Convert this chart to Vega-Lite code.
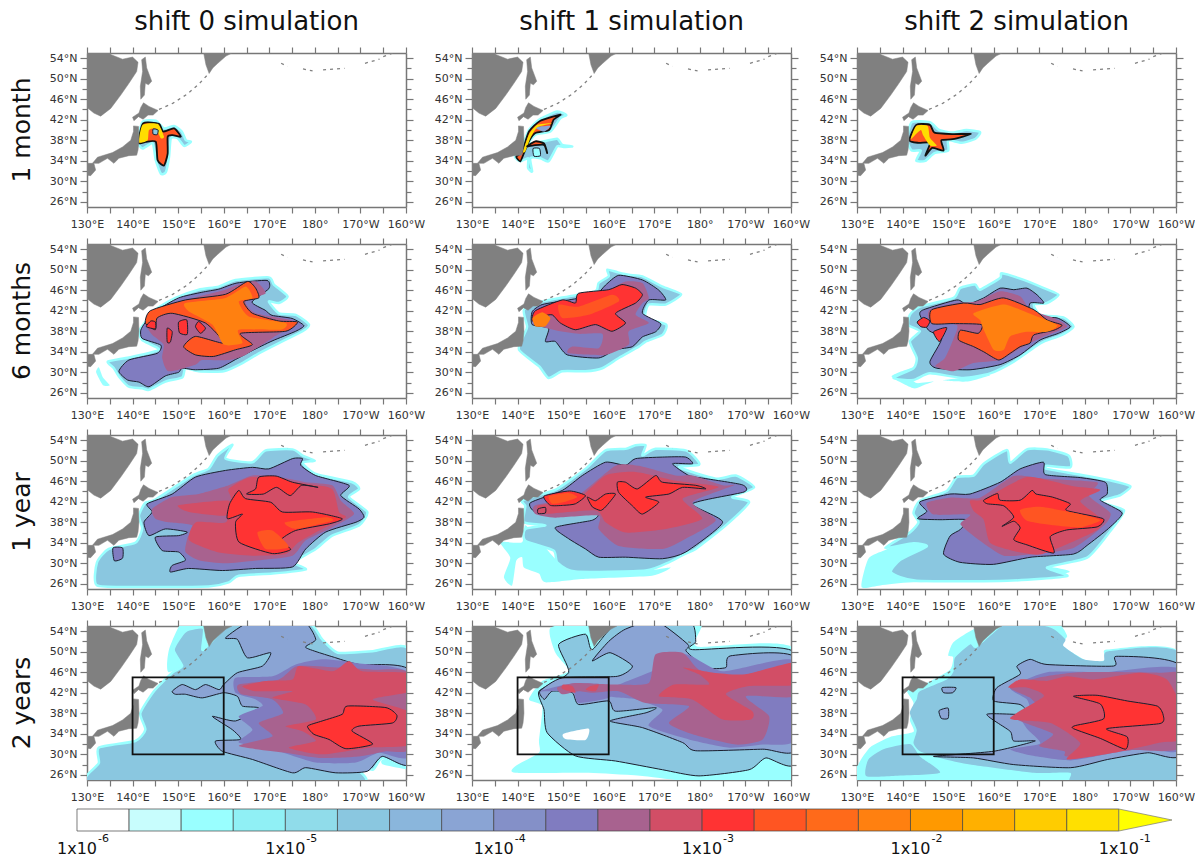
{"$schema":"https://vega.github.io/schema/vega-lite/v6.json","padding":{"left":10,"top":9,"right":0,"bottom":0},"background":"white","config":{"view":{"stroke":null},"axis":{"grid":false,"title":null,"domainColor":"#777","domainWidth":1.5,"tickColor":"#777","tickWidth":1.2,"labelFontSize":11,"labelColor":"#333","labelFont":"DejaVu Sans","labelOverlap":false,"labelFlush":false}},"datasets":{"panels":[{"p":"a","r":"1 month","s":"shift 0 simulation"},{"p":"b","r":"1 month","s":"shift 1 simulation"},{"p":"c","r":"1 month","s":"shift 2 simulation"},{"p":"d","r":"6 months","s":"shift 0 simulation"},{"p":"e","r":"6 months","s":"shift 1 simulation"},{"p":"f","r":"6 months","s":"shift 2 simulation"},{"p":"g","r":"1 year","s":"shift 0 simulation"},{"p":"h","r":"1 year","s":"shift 1 simulation"},{"p":"i","r":"1 year","s":"shift 2 simulation"},{"p":"j","r":"2 years","s":"shift 0 simulation"},{"p":"k","r":"2 years","s":"shift 1 simulation"},{"p":"l","r":"2 years","s":"shift 2 simulation"}],
"groups":[{"g":"a1","p":"a","l":2,"e":"c"},{"g":"a2","p":"a","l":8,"e":"K"},{"g":"a3","p":"a","l":10,"e":"n"},{"g":"a4","p":"a","l":2,"e":"k"},
{"g":"b1","p":"b","l":2,"e":"c"},{"g":"b6","p":"b","l":1,"e":"k"},{"g":"b2","p":"b","l":8,"e":"K"},{"g":"b5","p":"b","l":3,"e":"n"},{"g":"b3","p":"b","l":10,"e":"n"},{"g":"b4","p":"b","l":8,"e":"K"},
{"g":"c1","p":"c","l":2,"e":"c"},{"g":"c2","p":"c","l":8,"e":"K"},{"g":"c3","p":"c","l":10,"e":"n"},
{"g":"d0","p":"d","l":1,"e":"n"},{"g":"d1","p":"d","l":2,"e":"c"},{"g":"d2","p":"d","l":4,"e":"k"},{"g":"d3","p":"d","l":5,"e":"n"},{"g":"d4","p":"d","l":8,"e":"k"},{"g":"d5","p":"d","l":9,"e":"n"},{"g":"d6","p":"d","l":7,"e":"k"},{"g":"d7","p":"d","l":7,"e":"k"},{"g":"d8","p":"d","l":7,"e":"k"},{"g":"d9","p":"d","l":7,"e":"k"},
{"g":"e1","p":"e","l":2,"e":"c"},{"g":"e2","p":"e","l":4,"e":"k"},{"g":"e3","p":"e","l":5,"e":"n"},{"g":"e4","p":"e","l":7,"e":"k"},{"g":"e5","p":"e","l":8,"e":"n"},{"g":"e6","p":"e","l":9,"e":"n"},
{"g":"f0","p":"f","l":1,"e":"n"},{"g":"f9","p":"f","l":1,"e":"n"},{"g":"f1","p":"f","l":2,"e":"c"},{"g":"f2","p":"f","l":4,"e":"k"},{"g":"f3","p":"f","l":5,"e":"n"},{"g":"f4","p":"f","l":8,"e":"k"},{"g":"f5","p":"f","l":9,"e":"n"},{"g":"f6","p":"f","l":7,"e":"k"},{"g":"f7","p":"f","l":7,"e":"k"},
{"g":"g1","p":"g","l":2,"e":"c"},{"g":"g2","p":"g","l":4,"e":"k"},{"g":"g8","p":"g","l":4,"e":"k"},{"g":"g3","p":"g","l":5,"e":"n"},{"g":"g4","p":"g","l":6,"e":"n"},{"g":"g5","p":"g","l":6,"e":"n"},{"g":"g6","p":"g","l":7,"e":"k"},{"g":"g7","p":"g","l":7,"e":"k"},{"g":"g9","p":"g","l":8,"e":"n"},{"g":"g0","p":"g","l":8,"e":"n"},
{"g":"h0","p":"h","l":1,"e":"n"},{"g":"h1","p":"h","l":2,"e":"c"},{"g":"h2","p":"h","l":4,"e":"k"},{"g":"h3","p":"h","l":5,"e":"n"},{"g":"h4","p":"h","l":6,"e":"n"},{"g":"h5","p":"h","l":7,"e":"k"},{"g":"h6","p":"h","l":8,"e":"n"},{"g":"h7","p":"h","l":7,"e":"k"},{"g":"h8","p":"h","l":7,"e":"k"},{"g":"h9","p":"h","l":6,"e":"k"},
{"g":"i0","p":"i","l":1,"e":"n"},{"g":"i1","p":"i","l":2,"e":"c"},{"g":"i2","p":"i","l":4,"e":"k"},{"g":"i3","p":"i","l":5,"e":"n"},{"g":"i4","p":"i","l":6,"e":"n"},{"g":"i5","p":"i","l":7,"e":"k"},{"g":"i6","p":"i","l":8,"e":"n"},
{"g":"j0","p":"j","l":1,"e":"n"},{"g":"j8","p":"j","l":1,"e":"n"},{"g":"j9","p":"j","l":1,"e":"n"},{"g":"j1","p":"j","l":2,"e":"c"},{"g":"j2","p":"j","l":3,"e":"k"},{"g":"j3","p":"j","l":4,"e":"n"},{"g":"j4","p":"j","l":5,"e":"n"},{"g":"j5","p":"j","l":6,"e":"n"},{"g":"j6","p":"j","l":7,"e":"k"},{"g":"jb","p":"j","l":0,"e":"n"},
{"g":"k0","p":"k","l":1,"e":"n"},{"g":"k1","p":"k","l":2,"e":"k"},{"g":"k9","p":"k","l":0,"e":"n"},{"g":"k2","p":"k","l":3,"e":"k"},{"g":"k3","p":"k","l":4,"e":"n"},{"g":"k8","p":"k","l":4,"e":"n"},{"g":"k4","p":"k","l":5,"e":"n"},{"g":"k5","p":"k","l":6,"e":"n"},{"g":"k6","p":"k","l":6,"e":"n"},{"g":"k7","p":"k","l":6,"e":"n"},{"g":"kb","p":"k","l":0,"e":"n"},
{"g":"l0","p":"l","l":1,"e":"n"},{"g":"l1","p":"l","l":2,"e":"n"},{"g":"l8","p":"l","l":2,"e":"n"},{"g":"l2","p":"l","l":3,"e":"k"},{"g":"l3","p":"l","l":4,"e":"n"},{"g":"l4","p":"l","l":5,"e":"n"},{"g":"l5","p":"l","l":6,"e":"n"},{"g":"l6","p":"l","l":7,"e":"k"},{"g":"l7","p":"l","l":3,"e":"k"},{"g":"l9","p":"l","l":3,"e":"k"},{"g":"lb","p":"l","l":0,"e":"n"}],
"land":[{"n":"asia","x":130,"y":55},{"n":"asia","x":135.2,"y":55},{"n":"asia","x":135.2,"y":54.7},{"n":"asia","x":137.8,"y":53.8},{"n":"asia","x":140,"y":54.2},{"n":"asia","x":141.2,"y":53.2},{"n":"asia","x":140.9,"y":51.4},{"n":"asia","x":139.2,"y":49.1},{"n":"asia","x":137.4,"y":46.8},{"n":"asia","x":135.2,"y":44.2},{"n":"asia","x":133,"y":42.7},{"n":"asia","x":131.5,"y":43.3},{"n":"asia","x":130,"y":44.4},
{"n":"sakh","x":142,"y":53.7},{"n":"sakh","x":142.8,"y":54.2},{"n":"sakh","x":143.1,"y":52.1},{"n":"sakh","x":144.2,"y":49.5},{"n":"sakh","x":143.5,"y":48.8},{"n":"sakh","x":142.8,"y":49.1},{"n":"sakh","x":142.6,"y":46.8},{"n":"sakh","x":141.8,"y":46},{"n":"sakh","x":141.7,"y":48.5},{"n":"sakh","x":142.2,"y":51.4},
{"n":"hok","x":140,"y":42.5},{"n":"hok","x":141.4,"y":43.3},{"n":"hok","x":141.8,"y":44.4},{"n":"hok","x":142.4,"y":45.3},{"n":"hok","x":143.6,"y":44.6},{"n":"hok","x":145.6,"y":43.8},{"n":"hok","x":144.5,"y":42.9},{"n":"hok","x":143.4,"y":42.9},{"n":"hok","x":142.3,"y":42.1},{"n":"hok","x":141.3,"y":42.6},{"n":"hok","x":140.3,"y":41.8},
{"n":"hon","x":140.2,"y":40.8},{"n":"hon","x":141.3,"y":40.7},{"n":"hon","x":141.4,"y":38},{"n":"hon","x":141.2,"y":36.1},{"n":"hon","x":140.9,"y":35.1},{"n":"hon","x":139.2,"y":35},{"n":"hon","x":137,"y":34.5},{"n":"hon","x":135.9,"y":33.5},{"n":"hon","x":134.5,"y":34.5},{"n":"hon","x":132.6,"y":33.5},{"n":"hon","x":131.2,"y":33.5},{"n":"hon","x":132.3,"y":34.7},{"n":"hon","x":135.6,"y":35.6},{"n":"hon","x":137.8,"y":36.7},{"n":"hon","x":139.6,"y":38},{"n":"hon","x":140.2,"y":39.7},
{"n":"kyu","x":130,"y":33.5},{"n":"kyu","x":131.5,"y":33.5},{"n":"kyu","x":131.9,"y":32.2},{"n":"kyu","x":130.8,"y":31.1},{"n":"kyu","x":130,"y":31.2},
{"n":"kam","x":155.6,"y":55},{"n":"kam","x":161.8,"y":55},{"n":"kam","x":160.5,"y":54.4},{"n":"kam","x":158.7,"y":53},{"n":"kam","x":157.6,"y":52.1},{"n":"kam","x":156.8,"y":51},{"n":"kam","x":156.1,"y":52.7}],
"isl":[{"n":"k1","x":145.8,"y":44},{"n":"k1","x":148.8,"y":45.2},{"n":"k1","x":152,"y":47},{"n":"k1","x":154.6,"y":49},{"n":"k1","x":156.4,"y":50.7},{"n":"a1","x":172.6,"y":53},{"n":"a1","x":174,"y":52.4},{"n":"a2","x":177.4,"y":51.9},{"n":"a2","x":179.5,"y":51.5},{"n":"a3","x":181.8,"y":51.7},{"n":"a3","x":186.5,"y":52},{"n":"a4","x":191,"y":53},{"n":"a4","x":194.2,"y":53.8},{"n":"a5","x":195,"y":54.3},{"n":"a5","x":197.2,"y":55}],
"f":[
{"g":"a1","x":142.2,"y":41.6},{"g":"a1","x":145.1,"y":41.8},{"g":"a1","x":146.9,"y":40.3},{"g":"a1","x":149.1,"y":40.8},{"g":"a1","x":150.8,"y":39.7},{"g":"a1","x":151.7,"y":38},{"g":"a1","x":152.8,"y":37.7},{"g":"a1","x":151.3,"y":36.9},{"g":"a1","x":149.9,"y":38.4},{"g":"a1","x":148.4,"y":38.4},{"g":"a1","x":148,"y":34.8},{"g":"a1","x":147.3,"y":31.8},{"g":"a1","x":146.2,"y":31.5},{"g":"a1","x":145.1,"y":34.1},{"g":"a1","x":144.4,"y":37.4},{"g":"a1","x":142.2,"y":36.4},{"g":"a1","x":141.1,"y":37.7},
{"g":"a2","x":142.3,"y":41.3},{"g":"a2","x":145.8,"y":41.2},{"g":"a2","x":146.7,"y":39.7},{"g":"a2","x":149.1,"y":40.3},{"g":"a2","x":150.6,"y":38.7},{"g":"a2","x":148.8,"y":39},{"g":"a2","x":147.7,"y":38.7},{"g":"a2","x":147.7,"y":35.4},{"g":"a2","x":146.9,"y":33.1},{"g":"a2","x":145.5,"y":34.1},{"g":"a2","x":145.1,"y":37.7},{"g":"a2","x":142.9,"y":37.7},{"g":"a2","x":141.3,"y":37.5},
{"g":"a3","x":142.2,"y":41},{"g":"a3","x":145.5,"y":41.2},{"g":"a3","x":146.9,"y":38.7},{"g":"a3","x":146.2,"y":38.4},{"g":"a3","x":145.1,"y":40.3},{"g":"a3","x":143.6,"y":40},{"g":"a3","x":143.3,"y":38},{"g":"a3","x":141.4,"y":37.6},
{"g":"a4","x":144.5,"y":40.2},{"g":"a4","x":145.6,"y":40},{"g":"a4","x":145.4,"y":39.1},{"g":"a4","x":144.5,"y":39.2},
{"g":"b1","x":139.4,"y":34.8},{"g":"b1","x":141,"y":36.8},{"g":"b1","x":142.5,"y":40},{"g":"b1","x":144.7,"y":42},{"g":"b1","x":148.7,"y":43.6},{"g":"b1","x":150.7,"y":42.9},{"g":"b1","x":149.4,"y":42.3},{"g":"b1","x":147.2,"y":39.7},{"g":"b1","x":143.9,"y":39.1},{"g":"b1","x":142.5,"y":37.4},{"g":"b1","x":145.8,"y":37.8},{"g":"b1","x":148.7,"y":38.3},{"g":"b1","x":149.8,"y":37.1},{"g":"b1","x":152,"y":36.8},{"g":"b1","x":150.1,"y":36.7},{"g":"b1","x":148.7,"y":36.8},{"g":"b1","x":146.8,"y":33.9},{"g":"b1","x":145,"y":34.5},{"g":"b1","x":142.8,"y":34.5},{"g":"b1","x":143.2,"y":31.9},{"g":"b1","x":142.3,"y":32.6},{"g":"b1","x":142.3,"y":34.5},{"g":"b1","x":140.6,"y":33.9},
{"g":"b6","x":143.4,"y":36.4},{"g":"b6","x":144.8,"y":36.4},{"g":"b6","x":145,"y":35},{"g":"b6","x":143.6,"y":34.9},
{"g":"b2","x":139.7,"y":34.8},{"g":"b2","x":141,"y":35.8},{"g":"b2","x":142.5,"y":39.7},{"g":"b2","x":145,"y":41.8},{"g":"b2","x":149.4,"y":43},{"g":"b2","x":147.9,"y":42},{"g":"b2","x":146.9,"y":40},{"g":"b2","x":143.9,"y":39.4},{"g":"b2","x":142.5,"y":37.8},{"g":"b2","x":141.4,"y":35.5},{"g":"b2","x":140.6,"y":33.9},
{"g":"b5","x":143.9,"y":40.5},{"g":"b5","x":147.2,"y":40.8},{"g":"b5","x":145.8,"y":39.7},
{"g":"b3","x":141.2,"y":35.8},{"g":"b3","x":142.5,"y":39.1},{"g":"b3","x":144.3,"y":41},{"g":"b3","x":147.6,"y":41.3},{"g":"b3","x":144.3,"y":40.5},{"g":"b3","x":142.8,"y":38.4},{"g":"b3","x":141.7,"y":35.8},
{"g":"b4","x":142.1,"y":36.8},{"g":"b4","x":143.9,"y":37.8},{"g":"b4","x":145.8,"y":37.4},{"g":"b4","x":146.5,"y":35.5},{"g":"b4","x":145.8,"y":37.1},{"g":"b4","x":143.5,"y":37},
{"g":"c1","x":142,"y":41.5},{"g":"c1","x":146,"y":41.5},{"g":"c1","x":148,"y":40},{"g":"c1","x":151,"y":39.5},{"g":"c1","x":154,"y":40},{"g":"c1","x":157,"y":39.6},{"g":"c1","x":156,"y":38.3},{"g":"c1","x":153,"y":37.5},{"g":"c1","x":150,"y":38},{"g":"c1","x":150,"y":36},{"g":"c1","x":147,"y":35.5},{"g":"c1","x":145,"y":34},{"g":"c1","x":143,"y":34},{"g":"c1","x":144,"y":36},{"g":"c1","x":142,"y":36},{"g":"c1","x":141,"y":38},
{"g":"c2","x":143,"y":41},{"g":"c2","x":146,"y":41},{"g":"c2","x":147,"y":39.5},{"g":"c2","x":151,"y":39.2},{"g":"c2","x":155,"y":39.2},{"g":"c2","x":151,"y":38.2},{"g":"c2","x":148.5,"y":38},{"g":"c2","x":149,"y":36},{"g":"c2","x":146.5,"y":36.5},{"g":"c2","x":145,"y":35},{"g":"c2","x":146,"y":37.5},{"g":"c2","x":143.5,"y":37.5},{"g":"c2","x":141.5,"y":38},
{"g":"c3","x":143,"y":40.8},{"g":"c3","x":145.5,"y":40.8},{"g":"c3","x":146,"y":38.5},{"g":"c3","x":147.5,"y":37},{"g":"c3","x":146,"y":37},{"g":"c3","x":144.5,"y":39},{"g":"c3","x":144,"y":40},{"g":"c3","x":142.5,"y":38.8},{"g":"c3","x":141.8,"y":38.3},
{"g":"d0","x":132.6,"y":31},{"g":"d0","x":133.5,"y":29},{"g":"d0","x":135,"y":27.5},{"g":"d0","x":133.5,"y":27.5},{"g":"d0","x":132,"y":30},
{"g":"d1","x":142.8,"y":39.8},{"g":"d1","x":145,"y":42.2},{"g":"d1","x":149.4,"y":44.5},{"g":"d1","x":154.5,"y":46.1},{"g":"d1","x":158.9,"y":46.7},{"g":"d1","x":162.6,"y":48},{"g":"d1","x":169.9,"y":48.5},{"g":"d1","x":171,"y":47.1},{"g":"d1","x":174,"y":44.8},{"g":"d1","x":172.1,"y":43.5},{"g":"d1","x":169.9,"y":43.8},{"g":"d1","x":172.1,"y":41.5},{"g":"d1","x":175.8,"y":41.2},{"g":"d1","x":178.7,"y":39.3},{"g":"d1","x":177.3,"y":38},{"g":"d1","x":172.1,"y":35.7},{"g":"d1","x":167.7,"y":33.7},{"g":"d1","x":164.1,"y":31.8},{"g":"d1","x":160,"y":30.2},{"g":"d1","x":154.5,"y":30.2},{"g":"d1","x":151.6,"y":30.8},{"g":"d1","x":150.9,"y":29},{"g":"d1","x":147.2,"y":28.2},{"g":"d1","x":143.6,"y":26.6},{"g":"d1","x":142.1,"y":26.9},{"g":"d1","x":139.2,"y":27.2},{"g":"d1","x":137,"y":29.2},{"g":"d1","x":135.9,"y":30.8},{"g":"d1","x":134.6,"y":32.1},{"g":"d1","x":139.2,"y":32.9},{"g":"d1","x":145.8,"y":34.4},{"g":"d1","x":142.1,"y":36.3},{"g":"d1","x":141.4,"y":38},
{"g":"d2","x":142.7,"y":39.6},{"g":"d2","x":145,"y":41.9},{"g":"d2","x":150.1,"y":44.5},{"g":"d2","x":155.2,"y":45.6},{"g":"d2","x":158.9,"y":46.2},{"g":"d2","x":162.9,"y":47.4},{"g":"d2","x":169.5,"y":47.9},{"g":"d2","x":169.9,"y":46.3},{"g":"d2","x":166.2,"y":43.7},{"g":"d2","x":169.1,"y":42.1},{"g":"d2","x":170.6,"y":41.1},{"g":"d2","x":175,"y":40.5},{"g":"d2","x":177.6,"y":39.1},{"g":"d2","x":175.8,"y":38},{"g":"d2","x":170.6,"y":36.1},{"g":"d2","x":166.2,"y":34.2},{"g":"d2","x":162.6,"y":32.5},{"g":"d2","x":158.9,"y":30.8},{"g":"d2","x":153.8,"y":30.5},{"g":"d2","x":150.9,"y":30.8},{"g":"d2","x":150.1,"y":30},{"g":"d2","x":147.2,"y":29.3},{"g":"d2","x":143.6,"y":27.2},{"g":"d2","x":141.4,"y":28.1},{"g":"d2","x":138.9,"y":28.5},{"g":"d2","x":137,"y":30.2},{"g":"d2","x":139.2,"y":32.4},{"g":"d2","x":145.4,"y":33.7},{"g":"d2","x":146.2,"y":35.3},{"g":"d2","x":142.1,"y":36.6},{"g":"d2","x":141.8,"y":38.2},
{"g":"d3","x":143.6,"y":40.2},{"g":"d3","x":145.8,"y":41.2},{"g":"d3","x":150.9,"y":43.8},{"g":"d3","x":156,"y":45.1},{"g":"d3","x":160.4,"y":46.1},{"g":"d3","x":163.3,"y":47.1},{"g":"d3","x":167,"y":47.7},{"g":"d3","x":169.2,"y":45.4},{"g":"d3","x":164.8,"y":43.8},{"g":"d3","x":167,"y":41.5},{"g":"d3","x":175.8,"y":39.8},{"g":"d3","x":170.7,"y":36.7},{"g":"d3","x":164.8,"y":33.4},{"g":"d3","x":161.1,"y":32.4},{"g":"d3","x":155.3,"y":32.4},{"g":"d3","x":153.8,"y":31.5},{"g":"d3","x":147.9,"y":30.2},{"g":"d3","x":146.5,"y":32.8},{"g":"d3","x":146.8,"y":35.4},{"g":"d3","x":144.3,"y":37.3},{"g":"d3","x":142.8,"y":39.3},
{"g":"d4","x":142.8,"y":39.6},{"g":"d4","x":143.9,"y":42},{"g":"d4","x":151.6,"y":44.1},{"g":"d4","x":160.4,"y":45.2},{"g":"d4","x":165.2,"y":47.7},{"g":"d4","x":167,"y":46.4},{"g":"d4","x":167.7,"y":44.5},{"g":"d4","x":164.4,"y":43.8},{"g":"d4","x":166.3,"y":41.5},{"g":"d4","x":172.1,"y":40},{"g":"d4","x":176.2,"y":39.8},{"g":"d4","x":173.6,"y":38},{"g":"d4","x":163.7,"y":37.6},{"g":"d4","x":166.3,"y":35.4},{"g":"d4","x":162.6,"y":34.4},{"g":"d4","x":157.8,"y":33.1},{"g":"d4","x":153.8,"y":33.4},{"g":"d4","x":151.2,"y":35},{"g":"d4","x":153.8,"y":37},{"g":"d4","x":160,"y":35.7},{"g":"d4","x":156,"y":39.6},{"g":"d4","x":148.7,"y":41.5},{"g":"d4","x":145.4,"y":40.6},{"g":"d4","x":145,"y":38.3},
{"g":"d5","x":151.6,"y":43.5},{"g":"d5","x":160.4,"y":44.5},{"g":"d5","x":164.8,"y":46.7},{"g":"d5","x":166.3,"y":44.5},{"g":"d5","x":163.3,"y":43.8},{"g":"d5","x":165.5,"y":40.9},{"g":"d5","x":173.6,"y":39.6},{"g":"d5","x":172.5,"y":38.3},{"g":"d5","x":163.3,"y":38.3},{"g":"d5","x":164.1,"y":35.7},{"g":"d5","x":160,"y":35.4},{"g":"d5","x":157.5,"y":39.3},{"g":"d5","x":152.3,"y":41.9},
{"g":"d6","x":150.1,"y":39.8},{"g":"d6","x":151.9,"y":40.2},{"g":"d6","x":152,"y":37.4},{"g":"d6","x":150.3,"y":37.7},
{"g":"d7","x":154.5,"y":39.9},{"g":"d7","x":156,"y":38.6},{"g":"d7","x":154.9,"y":37.6},{"g":"d7","x":153.8,"y":38.9},
{"g":"d8","x":147.6,"y":38.6},{"g":"d8","x":148.7,"y":37.9},{"g":"d8","x":148.3,"y":35.9},{"g":"d8","x":147.6,"y":35.9},
{"g":"d9","x":144,"y":40},{"g":"d9","x":145,"y":39.8},{"g":"d9","x":145,"y":38.5},{"g":"d9","x":143,"y":38.9},
{"g":"e1","x":141.4,"y":42.2},{"g":"e1","x":145.4,"y":43.8},{"g":"e1","x":151.2,"y":44.8},{"g":"e1","x":157.1,"y":45.8},{"g":"e1","x":157.8,"y":47.4},{"g":"e1","x":160,"y":48.7},{"g":"e1","x":159.7,"y":50},{"g":"e1","x":161.9,"y":49.5},{"g":"e1","x":164.4,"y":49},{"g":"e1","x":167.4,"y":48.7},{"g":"e1","x":171.8,"y":46.7},{"g":"e1","x":175.9,"y":45.2},{"g":"e1","x":172.5,"y":43.2},{"g":"e1","x":168.8,"y":43.2},{"g":"e1","x":168.1,"y":40.6},{"g":"e1","x":172.6,"y":39.3},{"g":"e1","x":171.8,"y":37.3},{"g":"e1","x":168.1,"y":36},{"g":"e1","x":166.6,"y":35},{"g":"e1","x":162.2,"y":32.8},{"g":"e1","x":158.6,"y":30.8},{"g":"e1","x":154.9,"y":30.2},{"g":"e1","x":149.8,"y":30.2},{"g":"e1","x":146.8,"y":28.9},{"g":"e1","x":144.7,"y":31.2},{"g":"e1","x":140.3,"y":34.4},{"g":"e1","x":141.4,"y":37.3},{"g":"e1","x":142.1,"y":38.9},
{"g":"e2","x":145.4,"y":43.2},{"g":"e2","x":151.2,"y":44.1},{"g":"e2","x":157.1,"y":45.1},{"g":"e2","x":159.3,"y":47},{"g":"e2","x":162.2,"y":48.9},{"g":"e2","x":167.4,"y":48},{"g":"e2","x":171,"y":46},{"g":"e2","x":172.5,"y":44.1},{"g":"e2","x":168.8,"y":44.1},{"g":"e2","x":167.4,"y":41.5},{"g":"e2","x":171.4,"y":39.5},{"g":"e2","x":170.3,"y":37.9},{"g":"e2","x":167.4,"y":36.9},{"g":"e2","x":165.2,"y":35},{"g":"e2","x":161.5,"y":34.4},{"g":"e2","x":157.8,"y":32.8},{"g":"e2","x":150.9,"y":33.4},{"g":"e2","x":148.3,"y":36},{"g":"e2","x":146.1,"y":36},{"g":"e2","x":146.8,"y":38.6},{"g":"e2","x":143.2,"y":39.3},{"g":"e2","x":143.2,"y":41.8},
{"g":"e3","x":146.1,"y":42.5},{"g":"e3","x":151.2,"y":43.5},{"g":"e3","x":160,"y":46.1},{"g":"e3","x":163.7,"y":47.7},{"g":"e3","x":167.4,"y":47.4},{"g":"e3","x":168.8,"y":44.5},{"g":"e3","x":167.4,"y":43.5},{"g":"e3","x":165.9,"y":41.2},{"g":"e3","x":168.8,"y":39.6},{"g":"e3","x":164.4,"y":38},{"g":"e3","x":164.4,"y":35.4},{"g":"e3","x":159.3,"y":33.4},{"g":"e3","x":151.2,"y":33.7},{"g":"e3","x":151.9,"y":35},{"g":"e3","x":157.8,"y":34.7},{"g":"e3","x":158.6,"y":37.5},{"g":"e3","x":153.4,"y":37.5},{"g":"e3","x":148.3,"y":38.2},{"g":"e3","x":143.9,"y":39.3},{"g":"e3","x":143.6,"y":41.5},
{"g":"e4","x":143.9,"y":42},{"g":"e4","x":149.8,"y":44.1},{"g":"e4","x":152.7,"y":43.5},{"g":"e4","x":153.4,"y":45.4},{"g":"e4","x":160,"y":46.1},{"g":"e4","x":162.9,"y":47.1},{"g":"e4","x":165.9,"y":46.4},{"g":"e4","x":167.4,"y":45.1},{"g":"e4","x":165.9,"y":43.5},{"g":"e4","x":161.5,"y":41.5},{"g":"e4","x":163.7,"y":39.6},{"g":"e4","x":160.7,"y":38},{"g":"e4","x":157.1,"y":39.3},{"g":"e4","x":152.7,"y":38.3},{"g":"e4","x":149.4,"y":39.6},{"g":"e4","x":147.6,"y":41.2},{"g":"e4","x":145.4,"y":40.9},{"g":"e4","x":143.2,"y":40},
{"g":"e5","x":149,"y":43.2},{"g":"e5","x":153.4,"y":42.8},{"g":"e5","x":160.7,"y":45.1},{"g":"e5","x":162.2,"y":43.8},{"g":"e5","x":155.6,"y":41.2},{"g":"e5","x":149.8,"y":40.6},
{"g":"e6","x":143.3,"y":40.6},{"g":"e6","x":145.4,"y":41.7},{"g":"e6","x":147.2,"y":40.6},{"g":"e6","x":146.1,"y":39},{"g":"e6","x":143.9,"y":39},
{"g":"f0","x":137.6,"y":29.2},{"g":"f0","x":142,"y":30.8},{"g":"f0","x":141.6,"y":29.2},{"g":"f0","x":143.1,"y":27.9},{"g":"f0","x":146.8,"y":28.2},{"g":"f0","x":144.6,"y":27.5},{"g":"f0","x":142.4,"y":26.9},
{"g":"f9","x":149,"y":28.5},{"g":"f9","x":159.2,"y":29.5},{"g":"f9","x":154.1,"y":28.2},
{"g":"f1","x":141.6,"y":41.2},{"g":"f1","x":143.8,"y":42.8},{"g":"f1","x":151.2,"y":44.5},{"g":"f1","x":152.6,"y":46.4},{"g":"f1","x":155.9,"y":47.1},{"g":"f1","x":157,"y":46.1},{"g":"f1","x":161.4,"y":48.4},{"g":"f1","x":161.8,"y":49.3},{"g":"f1","x":166.6,"y":48},{"g":"f1","x":171,"y":46.4},{"g":"f1","x":174.2,"y":45.1},{"g":"f1","x":171.7,"y":43.5},{"g":"f1","x":168.8,"y":43.2},{"g":"f1","x":170.2,"y":41.2},{"g":"f1","x":175.3,"y":40.7},{"g":"f1","x":177.5,"y":38.9},{"g":"f1","x":175,"y":37.3},{"g":"f1","x":171,"y":36},{"g":"f1","x":169.1,"y":35},{"g":"f1","x":164.4,"y":32.1},{"g":"f1","x":159.2,"y":29.8},{"g":"f1","x":153.4,"y":28.9},{"g":"f1","x":146,"y":29.8},{"g":"f1","x":142.4,"y":28.5},{"g":"f1","x":138,"y":28.9},{"g":"f1","x":142.4,"y":30.8},{"g":"f1","x":143.1,"y":32.8},{"g":"f1","x":141.6,"y":36},{"g":"f1","x":143.8,"y":38},{"g":"f1","x":141.3,"y":39.2},
{"g":"f2","x":144.6,"y":42.2},{"g":"f2","x":151.9,"y":44.1},{"g":"f2","x":154.1,"y":43.2},{"g":"f2","x":157.8,"y":44.5},{"g":"f2","x":161.4,"y":46.4},{"g":"f2","x":164.4,"y":46.1},{"g":"f2","x":167.3,"y":46.4},{"g":"f2","x":169.5,"y":45.1},{"g":"f2","x":171,"y":43.5},{"g":"f2","x":168,"y":43.5},{"g":"f2","x":168,"y":40.9},{"g":"f2","x":173.9,"y":40.6},{"g":"f2","x":176.8,"y":38.9},{"g":"f2","x":174.2,"y":37.6},{"g":"f2","x":170.2,"y":36.3},{"g":"f2","x":165.8,"y":33.4},{"g":"f2","x":161.4,"y":31.5},{"g":"f2","x":154.8,"y":30.5},{"g":"f2","x":147.5,"y":30.8},{"g":"f2","x":146,"y":32.1},{"g":"f2","x":148.6,"y":36.6},{"g":"f2","x":145.7,"y":38.2},{"g":"f2","x":143.8,"y":41.2},
{"g":"f3","x":146,"y":42.2},{"g":"f3","x":151.9,"y":43.5},{"g":"f3","x":156.2,"y":43.8},{"g":"f3","x":161.4,"y":45.8},{"g":"f3","x":165.8,"y":44.8},{"g":"f3","x":168,"y":42.2},{"g":"f3","x":173.2,"y":40.6},{"g":"f3","x":176.1,"y":38.9},{"g":"f3","x":171,"y":37},{"g":"f3","x":165.8,"y":34.7},{"g":"f3","x":161.4,"y":32.4},{"g":"f3","x":155.5,"y":31.8},{"g":"f3","x":151.2,"y":30.2},{"g":"f3","x":147.2,"y":31.2},{"g":"f3","x":149.3,"y":32.8},{"g":"f3","x":151.2,"y":36.6},{"g":"f3","x":151.9,"y":39.2},{"g":"f3","x":146,"y":40.2},
{"g":"f4","x":146.4,"y":42.2},{"g":"f4","x":153.4,"y":43.5},{"g":"f4","x":157,"y":43.2},{"g":"f4","x":162.2,"y":44.5},{"g":"f4","x":168.8,"y":42.2},{"g":"f4","x":171.7,"y":40.2},{"g":"f4","x":175,"y":39.2},{"g":"f4","x":173.2,"y":38.2},{"g":"f4","x":168.8,"y":37.3},{"g":"f4","x":168,"y":35.7},{"g":"f4","x":165.8,"y":35},{"g":"f4","x":163.6,"y":33.7},{"g":"f4","x":161.1,"y":32.4},{"g":"f4","x":157.8,"y":34},{"g":"f4","x":155.6,"y":35},{"g":"f4","x":152.3,"y":36.3},{"g":"f4","x":152.7,"y":38.2},{"g":"f4","x":156.6,"y":37.6},{"g":"f4","x":157.3,"y":39.3},{"g":"f4","x":151.1,"y":39.5},{"g":"f4","x":146.4,"y":39.5},
{"g":"f5","x":155.6,"y":41.5},{"g":"f5","x":162.2,"y":43.2},{"g":"f5","x":168,"y":41.4},{"g":"f5","x":173.9,"y":39.2},{"g":"f5","x":171.7,"y":37.9},{"g":"f5","x":167.3,"y":37.9},{"g":"f5","x":163.6,"y":37},{"g":"f5","x":162.2,"y":34.4},{"g":"f5","x":160,"y":34.4},{"g":"f5","x":157.8,"y":38.3},{"g":"f5","x":157,"y":40.2},
{"g":"f6","x":143.2,"y":39.8},{"g":"f6","x":144.6,"y":40.7},{"g":"f6","x":146,"y":40},{"g":"f6","x":145.3,"y":38.8},{"g":"f6","x":144,"y":38.9},
{"g":"f7","x":146.8,"y":37.9},{"g":"f7","x":149.7,"y":38.7},{"g":"f7","x":148.1,"y":36},
{"g":"g1","x":142.8,"y":41.8},{"g":"g1","x":145,"y":42.4},{"g":"g1","x":153.1,"y":47.1},{"g":"g1","x":156.7,"y":48.4},{"g":"g1","x":158.6,"y":51},{"g":"g1","x":161.9,"y":53.1},{"g":"g1","x":160.4,"y":50.4},{"g":"g1","x":166.3,"y":49.7},{"g":"g1","x":169.2,"y":52},{"g":"g1","x":175.1,"y":52.2},{"g":"g1","x":177.3,"y":51},{"g":"g1","x":180,"y":50},{"g":"g1","x":177.3,"y":49.6},{"g":"g1","x":180.2,"y":47.4},{"g":"g1","x":188.2,"y":45.8},{"g":"g1","x":189.7,"y":44.5},{"g":"g1","x":187.5,"y":42.9},{"g":"g1","x":191.5,"y":40},{"g":"g1","x":189.7,"y":37.4},{"g":"g1","x":183.8,"y":35.4},{"g":"g1","x":180.2,"y":32.8},{"g":"g1","x":175.5,"y":30.2},{"g":"g1","x":178,"y":28.8},{"g":"g1","x":170.7,"y":28},{"g":"g1","x":163.3,"y":27.6},{"g":"g1","x":161.1,"y":26.3},{"g":"g1","x":156.7,"y":25.5},{"g":"g1","x":141.4,"y":25.4},{"g":"g1","x":132.2,"y":25.7},{"g":"g1","x":132.2,"y":30.2},{"g":"g1","x":134.8,"y":32.8},{"g":"g1","x":140.6,"y":34},{"g":"g1","x":142.1,"y":36.7},{"g":"g1","x":141.4,"y":39.3},
{"g":"g2","x":143.2,"y":41.6},{"g":"g2","x":148.7,"y":43.5},{"g":"g2","x":153.8,"y":46.8},{"g":"g2","x":160.4,"y":48.1},{"g":"g2","x":166.3,"y":48.7},{"g":"g2","x":169.9,"y":48.4},{"g":"g2","x":175.1,"y":50.4},{"g":"g2","x":177.3,"y":50.4},{"g":"g2","x":176.9,"y":49.1},{"g":"g2","x":180.2,"y":47.1},{"g":"g2","x":187.5,"y":45.2},{"g":"g2","x":185.7,"y":43.2},{"g":"g2","x":189.7,"y":40.6},{"g":"g2","x":190.8,"y":39},{"g":"g2","x":189,"y":38},{"g":"g2","x":182.4,"y":36.1},{"g":"g2","x":178,"y":32.8},{"g":"g2","x":175.1,"y":29.3},{"g":"g2","x":167,"y":29},{"g":"g2","x":159.7,"y":28.6},{"g":"g2","x":152.3,"y":29},{"g":"g2","x":148.3,"y":28.3},{"g":"g2","x":148.7,"y":29.6},{"g":"g2","x":151.6,"y":30.6},{"g":"g2","x":150.1,"y":32.2},{"g":"g2","x":146.5,"y":32.5},{"g":"g2","x":145,"y":35.1},{"g":"g2","x":150.1,"y":35.4},{"g":"g2","x":152,"y":36.1},{"g":"g2","x":147.2,"y":36.7},{"g":"g2","x":143.6,"y":35.4},{"g":"g2","x":142.5,"y":38},{"g":"g2","x":144.3,"y":40},
{"g":"g8","x":135.7,"y":33},{"g":"g8","x":137.8,"y":33},{"g":"g8","x":137.8,"y":31},{"g":"g8","x":136,"y":30.5},
{"g":"g3","x":144.3,"y":40.6},{"g":"g3","x":148.7,"y":42.9},{"g":"g3","x":154.5,"y":43.5},{"g":"g3","x":161.1,"y":45.2},{"g":"g3","x":166.3,"y":47.1},{"g":"g3","x":172.1,"y":46.8},{"g":"g3","x":178,"y":45.8},{"g":"g3","x":183.8,"y":45.2},{"g":"g3","x":185.7,"y":42.2},{"g":"g3","x":188.6,"y":39.6},{"g":"g3","x":183.8,"y":37},{"g":"g3","x":178,"y":34.5},{"g":"g3","x":175.1,"y":31.5},{"g":"g3","x":167.7,"y":30.6},{"g":"g3","x":160.4,"y":30},{"g":"g3","x":154.5,"y":30.6},{"g":"g3","x":151.6,"y":32.2},{"g":"g3","x":152,"y":34.8},{"g":"g3","x":153.1,"y":37.4},{"g":"g3","x":147.9,"y":38},{"g":"g3","x":145,"y":38.7},
{"g":"g4","x":161.1,"y":44.5},{"g":"g4","x":166.3,"y":46.8},{"g":"g4","x":178,"y":45.5},{"g":"g4","x":183.8,"y":44.5},{"g":"g4","x":185.3,"y":40},{"g":"g4","x":186.8,"y":39},{"g":"g4","x":181.6,"y":36.7},{"g":"g4","x":176.4,"y":34.1},{"g":"g4","x":173.6,"y":31.8},{"g":"g4","x":166.3,"y":31.5},{"g":"g4","x":159,"y":32.1},{"g":"g4","x":152.4,"y":34.5},{"g":"g4","x":153.9,"y":38},{"g":"g4","x":160.5,"y":38},{"g":"g4","x":161.6,"y":42.6},
{"g":"g5","x":150.1,"y":41.3},{"g":"g5","x":161.1,"y":42.2},{"g":"g5","x":160.4,"y":39.3},{"g":"g5","x":152.4,"y":40},
{"g":"g6","x":160.8,"y":38.7},{"g":"g6","x":161.3,"y":41.6},{"g":"g6","x":163.3,"y":44.2},{"g":"g6","x":164.8,"y":42.6},{"g":"g6","x":170.3,"y":41.9},{"g":"g6","x":172.9,"y":40},{"g":"g6","x":179.5,"y":40},{"g":"g6","x":186,"y":38.7},{"g":"g6","x":183.2,"y":37.7},{"g":"g6","x":175.8,"y":36.4},{"g":"g6","x":172.5,"y":34.5},{"g":"g6","x":174.7,"y":32.7},{"g":"g6","x":170.7,"y":31.9},{"g":"g6","x":163.4,"y":34.1},{"g":"g6","x":162.6,"y":38},{"g":"g6","x":164.1,"y":39.6},
{"g":"g7","x":165,"y":43.5},{"g":"g7","x":167,"y":44.5},{"g":"g7","x":167.7,"y":46.8},{"g":"g7","x":171.5,"y":47},{"g":"g7","x":175.1,"y":45.8},{"g":"g7","x":180.7,"y":44.8},{"g":"g7","x":177.1,"y":45.2},{"g":"g7","x":174.6,"y":43.2},{"g":"g7","x":171.6,"y":44.8},{"g":"g7","x":168.7,"y":43.5},
{"g":"g9","x":173.5,"y":38},{"g":"g9","x":182.4,"y":39},{"g":"g9","x":183.8,"y":38.3},{"g":"g9","x":175.8,"y":36.7},
{"g":"g0","x":167.4,"y":36},{"g":"g0","x":170.7,"y":36.4},{"g":"g0","x":174.3,"y":33.2},{"g":"g0","x":169.2,"y":32.8},
{"g":"h0","x":137,"y":27.3},{"g":"h0","x":138.4,"y":31.1},{"g":"h0","x":136.2,"y":34.1},{"g":"h0","x":141,"y":34.1},{"g":"h0","x":141.7,"y":37.4},{"g":"h0","x":145.8,"y":33.4},{"g":"h0","x":149.8,"y":29.5},{"g":"h0","x":154.2,"y":28.2},{"g":"h0","x":167.4,"y":28.5},{"g":"h0","x":173.6,"y":29.2},{"g":"h0","x":169.5,"y":27.6},{"g":"h0","x":154.9,"y":27},{"g":"h0","x":146.1,"y":26.3},{"g":"h0","x":144.7,"y":28},{"g":"h0","x":141.4,"y":29.2},{"g":"h0","x":141,"y":31.2},{"g":"h0","x":139.7,"y":30.5},{"g":"h0","x":138.8,"y":25.7},
{"g":"h1","x":141,"y":42.2},{"g":"h1","x":145.4,"y":43.5},{"g":"h1","x":148.7,"y":44.5},{"g":"h1","x":154.9,"y":48.4},{"g":"h1","x":159.3,"y":52},{"g":"h1","x":163.7,"y":52.3},{"g":"h1","x":165.9,"y":53},{"g":"h1","x":168.1,"y":53},{"g":"h1","x":167.4,"y":51},{"g":"h1","x":170.3,"y":52.3},{"g":"h1","x":176.9,"y":52},{"g":"h1","x":179.1,"y":50.4},{"g":"h1","x":179.8,"y":49.2},{"g":"h1","x":175.4,"y":48.7},{"g":"h1","x":183.5,"y":46.5},{"g":"h1","x":187.9,"y":47.1},{"g":"h1","x":191.9,"y":44.8},{"g":"h1","x":187.1,"y":42.9},{"g":"h1","x":190.8,"y":41.9},{"g":"h1","x":185.7,"y":37.4},{"g":"h1","x":179.1,"y":32.8},{"g":"h1","x":176.9,"y":31.9},{"g":"h1","x":173.2,"y":30.2},{"g":"h1","x":168.1,"y":28.6},{"g":"h1","x":152.7,"y":28.4},{"g":"h1","x":148.7,"y":30.2},{"g":"h1","x":147.9,"y":32.5},{"g":"h1","x":141.7,"y":34.4},{"g":"h1","x":141.7,"y":36.7},{"g":"h1","x":146.1,"y":37.4},{"g":"h1","x":141.4,"y":38},{"g":"h1","x":141.7,"y":41.2},
{"g":"h2","x":142.8,"y":41.8},{"g":"h2","x":149.8,"y":44.2},{"g":"h2","x":154.2,"y":47.1},{"g":"h2","x":159.3,"y":49.7},{"g":"h2","x":163.7,"y":49.1},{"g":"h2","x":165.9,"y":50.4},{"g":"h2","x":171.8,"y":50.7},{"g":"h2","x":176.9,"y":50.7},{"g":"h2","x":178.4,"y":49.4},{"g":"h2","x":174,"y":49.4},{"g":"h2","x":177.6,"y":47.1},{"g":"h2","x":181.3,"y":46.5},{"g":"h2","x":189.3,"y":45.3},{"g":"h2","x":189.7,"y":43.9},{"g":"h2","x":178.4,"y":41.6},{"g":"h2","x":185,"y":38},{"g":"h2","x":176.9,"y":32.2},{"g":"h2","x":171.8,"y":30.9},{"g":"h2","x":163.7,"y":31.2},{"g":"h2","x":157.8,"y":31.2},{"g":"h2","x":154.9,"y":32.8},{"g":"h2","x":151.2,"y":34.8},{"g":"h2","x":148.3,"y":37},{"g":"h2","x":156.4,"y":38.4},{"g":"h2","x":157.5,"y":39.7},{"g":"h2","x":149.8,"y":39.7},{"g":"h2","x":143.9,"y":40},
{"g":"h3","x":143.9,"y":41.3},{"g":"h3","x":152.7,"y":42.9},{"g":"h3","x":161.5,"y":49},{"g":"h3","x":166.6,"y":49},{"g":"h3","x":174.7,"y":47.1},{"g":"h3","x":178.4,"y":47.1},{"g":"h3","x":185,"y":45.2},{"g":"h3","x":187.5,"y":45.2},{"g":"h3","x":178.4,"y":41.9},{"g":"h3","x":183.5,"y":38.4},{"g":"h3","x":176.9,"y":34.8},{"g":"h3","x":171.8,"y":32.8},{"g":"h3","x":162.2,"y":33.4},{"g":"h3","x":157.8,"y":36.7},{"g":"h3","x":157.8,"y":39.3},{"g":"h3","x":148.3,"y":38.9},{"g":"h3","x":143.9,"y":39.6},
{"g":"h4","x":144.7,"y":41.3},{"g":"h4","x":152.7,"y":42.2},{"g":"h4","x":159.3,"y":47.1},{"g":"h4","x":165.9,"y":47.8},{"g":"h4","x":174.7,"y":46.1},{"g":"h4","x":184.1,"y":44.9},{"g":"h4","x":176.2,"y":42.6},{"g":"h4","x":180.5,"y":38.7},{"g":"h4","x":172.5,"y":36.7},{"g":"h4","x":163.7,"y":36},{"g":"h4","x":159.3,"y":38},{"g":"h4","x":157.1,"y":40.3},{"g":"h4","x":145.4,"y":39.6},
{"g":"h5","x":145.8,"y":43.1},{"g":"h5","x":151.4,"y":44.1},{"g":"h5","x":154.9,"y":43.2},{"g":"h5","x":152.7,"y":41.6},{"g":"h5","x":150.1,"y":41.3},{"g":"h5","x":147.2,"y":41.3},
{"g":"h6","x":146.9,"y":43.1},{"g":"h6","x":151.2,"y":43.7},{"g":"h6","x":153.1,"y":42.9},{"g":"h6","x":150.5,"y":42},{"g":"h6","x":147.6,"y":41.6},
{"g":"h7","x":155.3,"y":42.9},{"g":"h7","x":157.1,"y":42.2},{"g":"h7","x":159.3,"y":43.5},{"g":"h7","x":161.5,"y":43.5},{"g":"h7","x":159.3,"y":41},{"g":"h7","x":158.2,"y":40.3},{"g":"h7","x":156.4,"y":41},
{"g":"h8","x":161.9,"y":45.8},{"g":"h8","x":163.7,"y":45.8},{"g":"h8","x":166.3,"y":44.5},{"g":"h8","x":170.3,"y":47.1},{"g":"h8","x":171.8,"y":45.8},{"g":"h8","x":179.1,"y":45.2},{"g":"h8","x":181.3,"y":44.5},{"g":"h8","x":176.2,"y":44.8},{"g":"h8","x":173.2,"y":43.5},{"g":"h8","x":168.1,"y":42.9},{"g":"h8","x":171,"y":41.9},{"g":"h8","x":167.4,"y":39.6},{"g":"h8","x":165.2,"y":41.2},{"g":"h8","x":162.2,"y":43.8},
{"g":"h9","x":144.5,"y":40.6},{"g":"h9","x":146.1,"y":40.9},{"g":"h9","x":146.1,"y":39.8},{"g":"h9","x":144.5,"y":39.7},
{"g":"i0","x":131,"y":25.4},{"g":"i0","x":132.5,"y":30.9},{"g":"i0","x":136.2,"y":32.6},{"g":"i0","x":142.4,"y":34.6},{"g":"i0","x":148.2,"y":32.3},{"g":"i0","x":173.2,"y":29.2},{"g":"i0","x":176.4,"y":28.2},{"g":"i0","x":164.4,"y":26.6},{"g":"i0","x":142.4,"y":26.3},{"g":"i0","x":135.1,"y":25.7},
{"g":"i1","x":143.8,"y":42.2},{"g":"i1","x":149.7,"y":44.1},{"g":"i1","x":151.9,"y":46.8},{"g":"i1","x":155.6,"y":47.1},{"g":"i1","x":157.8,"y":49.4},{"g":"i1","x":162.9,"y":52.1},{"g":"i1","x":163.6,"y":49.6},{"g":"i1","x":167.3,"y":52.2},{"g":"i1","x":171.7,"y":52.2},{"g":"i1","x":176.4,"y":51},{"g":"i1","x":176.8,"y":48.7},{"g":"i1","x":171.7,"y":49},{"g":"i1","x":171.7,"y":48.4},{"g":"i1","x":180.6,"y":47},{"g":"i1","x":186.3,"y":46},{"g":"i1","x":190,"y":45},{"g":"i1","x":187.8,"y":43.3},{"g":"i1","x":183.4,"y":42},{"g":"i1","x":188.6,"y":40.3},{"g":"i1","x":185.6,"y":36.3},{"g":"i1","x":180.5,"y":31.1},{"g":"i1","x":171.7,"y":29.2},{"g":"i1","x":176.1,"y":27.5},{"g":"i1","x":163,"y":26.6},{"g":"i1","x":143.1,"y":26.6},{"g":"i1","x":137.5,"y":28.2},{"g":"i1","x":139.5,"y":30.7},{"g":"i1","x":145.3,"y":33.3},{"g":"i1","x":142.4,"y":33.9},{"g":"i1","x":136.2,"y":33},{"g":"i1","x":141.6,"y":36},{"g":"i1","x":143.5,"y":38},{"g":"i1","x":142.4,"y":39.8},
{"g":"i2","x":143.8,"y":42},{"g":"i2","x":150.4,"y":43.5},{"g":"i2","x":154.8,"y":43.5},{"g":"i2","x":161.4,"y":45.8},{"g":"i2","x":165.8,"y":48.4},{"g":"i2","x":170.9,"y":49.7},{"g":"i2","x":171.3,"y":47.3},{"g":"i2","x":179,"y":46.7},{"g":"i2","x":184.5,"y":45.8},{"g":"i2","x":184.9,"y":43.5},{"g":"i2","x":183.4,"y":42.3},{"g":"i2","x":188.2,"y":39.8},{"g":"i2","x":185.2,"y":36.8},{"g":"i2","x":180.5,"y":33.5},{"g":"i2","x":177.5,"y":31.8},{"g":"i2","x":168.2,"y":31.2},{"g":"i2","x":159.9,"y":29.8},{"g":"i2","x":152.6,"y":30.2},{"g":"i2","x":149,"y":31.8},{"g":"i2","x":150.4,"y":35.3},{"g":"i2","x":152.7,"y":36.6},{"g":"i2","x":154,"y":38.5},{"g":"i2","x":148.2,"y":38.5},{"g":"i2","x":143.3,"y":38.7},{"g":"i2","x":145.3,"y":40.1},
{"g":"i3","x":145.3,"y":41.8},{"g":"i3","x":150.4,"y":42.8},{"g":"i3","x":157,"y":42.8},{"g":"i3","x":164.4,"y":47},{"g":"i3","x":171,"y":46.5},{"g":"i3","x":182.7,"y":45.8},{"g":"i3","x":180.8,"y":43.2},{"g":"i3","x":185.6,"y":39.8},{"g":"i3","x":184.1,"y":37.3},{"g":"i3","x":177.5,"y":33},{"g":"i3","x":168.8,"y":31.8},{"g":"i3","x":162.2,"y":31.5},{"g":"i3","x":157,"y":34.4},{"g":"i3","x":152.7,"y":37.6},{"g":"i3","x":154.8,"y":39.5},{"g":"i3","x":146.8,"y":39.5},
{"g":"i4","x":154.8,"y":42.2},{"g":"i4","x":157.8,"y":42.5},{"g":"i4","x":167.3,"y":46.8},{"g":"i4","x":177.5,"y":45},{"g":"i4","x":183.4,"y":44.3},{"g":"i4","x":179,"y":42.1},{"g":"i4","x":183.8,"y":38.5},{"g":"i4","x":182.7,"y":36.5},{"g":"i4","x":176.8,"y":34},{"g":"i4","x":170.2,"y":31.7},{"g":"i4","x":164.4,"y":32.4},{"g":"i4","x":159.2,"y":34},{"g":"i4","x":157.8,"y":38.5},{"g":"i4","x":155.6,"y":40.2},
{"g":"i5","x":157.8,"y":42.3},{"g":"i5","x":160.8,"y":43.6},{"g":"i5","x":161.4,"y":42.3},{"g":"i5","x":165.8,"y":42.3},{"g":"i5","x":168.4,"y":44.2},{"g":"i5","x":169.3,"y":43.5},{"g":"i5","x":172.9,"y":42.9},{"g":"i5","x":176.8,"y":41.6},{"g":"i5","x":176,"y":40.3},{"g":"i5","x":184,"y":38.7},{"g":"i5","x":182.7,"y":37.1},{"g":"i5","x":176,"y":36.5},{"g":"i5","x":172.4,"y":35.2},{"g":"i5","x":173.2,"y":32},{"g":"i5","x":167.3,"y":33.6},{"g":"i5","x":164.4,"y":34.6},{"g":"i5","x":165.8,"y":36.9},{"g":"i5","x":164.4,"y":38.2},{"g":"i5","x":161.8,"y":37.2},{"g":"i5","x":164.4,"y":39},{"g":"i5","x":162.2,"y":41.2},{"g":"i5","x":158.6,"y":41.6},
{"g":"i6","x":165.8,"y":40.4},{"g":"i6","x":170.2,"y":41},{"g":"i6","x":178.3,"y":39.7},{"g":"i6","x":183.4,"y":38.4},{"g":"i6","x":179,"y":37},{"g":"i6","x":173.2,"y":37.4},{"g":"i6","x":167.3,"y":38.3},
{"g":"j0","x":148,"y":50.4},{"g":"j0","x":151,"y":56},{"g":"j0","x":156,"y":56},{"g":"j0","x":156,"y":50},{"g":"j0","x":148,"y":46},
{"g":"j8","x":130,"y":24},{"g":"j8","x":132.6,"y":28.3},{"g":"j8","x":132.6,"y":24},
{"g":"j9","x":195,"y":29},{"g":"j9","x":201,"y":28.5},{"g":"j9","x":201,"y":27},{"g":"j9","x":195,"y":28},
{"g":"j1","x":132.6,"y":31.3},{"g":"j1","x":140.6,"y":32.6},{"g":"j1","x":142.8,"y":34.8},{"g":"j1","x":141.7,"y":38},{"g":"j1","x":144.7,"y":42.3},{"g":"j1","x":148.7,"y":45.9},{"g":"j1","x":150.9,"y":47.2},{"g":"j1","x":149,"y":50.4},{"g":"j1","x":151.6,"y":54},{"g":"j1","x":155.6,"y":54.6},{"g":"j1","x":155.3,"y":50.4},{"g":"j1","x":156.7,"y":51.4},{"g":"j1","x":162.6,"y":56},{"g":"j1","x":178,"y":56},{"g":"j1","x":181.6,"y":52.4},{"g":"j1","x":185,"y":49.8},{"g":"j1","x":192.7,"y":50.1},{"g":"j1","x":201,"y":50.1},{"g":"j1","x":201,"y":28.2},{"g":"j1","x":194.8,"y":29.3},{"g":"j1","x":192.7,"y":27},{"g":"j1","x":188.2,"y":28},{"g":"j1","x":189,"y":24},{"g":"j1","x":130,"y":24},{"g":"j1","x":130,"y":25.9},{"g":"j1","x":132.6,"y":28.3},
{"g":"j2","x":148.7,"y":42.3},{"g":"j2","x":150.9,"y":43.6},{"g":"j2","x":153.8,"y":42.6},{"g":"j2","x":156,"y":43.6},{"g":"j2","x":159,"y":42.6},{"g":"j2","x":160,"y":43.6},{"g":"j2","x":163,"y":45.9},{"g":"j2","x":168.5,"y":47.2},{"g":"j2","x":170.3,"y":49.8},{"g":"j2","x":165.2,"y":48.8},{"g":"j2","x":163,"y":52.4},{"g":"j2","x":160.4,"y":52.7},{"g":"j2","x":166.3,"y":56},{"g":"j2","x":177.3,"y":56},{"g":"j2","x":180.2,"y":52.4},{"g":"j2","x":178,"y":50.8},{"g":"j2","x":184.6,"y":48.8},{"g":"j2","x":189.7,"y":47.5},{"g":"j2","x":201,"y":46.2},{"g":"j2","x":201,"y":28.3},{"g":"j2","x":194.8,"y":29.6},{"g":"j2","x":191.5,"y":26.7},{"g":"j2","x":184.6,"y":26.4},{"g":"j2","x":178,"y":27.4},{"g":"j2","x":175.1,"y":26.4},{"g":"j2","x":166.3,"y":29},{"g":"j2","x":159.7,"y":30.6},{"g":"j2","x":158.2,"y":32.6},{"g":"j2","x":163.7,"y":32.9},{"g":"j2","x":161.9,"y":34.8},{"g":"j2","x":157.5,"y":37.4},{"g":"j2","x":162.6,"y":36.5},{"g":"j2","x":167.7,"y":39},{"g":"j2","x":164.1,"y":39.4},{"g":"j2","x":163,"y":41.3},{"g":"j2","x":160,"y":42},{"g":"j2","x":155.3,"y":41},{"g":"j2","x":151.6,"y":41.7},{"g":"j2","x":149.4,"y":41.7},
{"g":"j3","x":162.6,"y":44.9},{"g":"j3","x":170.7,"y":45.2},{"g":"j3","x":175.8,"y":47.5},{"g":"j3","x":181.6,"y":48.5},{"g":"j3","x":189,"y":47.8},{"g":"j3","x":201,"y":45.6},{"g":"j3","x":201,"y":29.7},{"g":"j3","x":194.1,"y":30.3},{"g":"j3","x":189,"y":28.4},{"g":"j3","x":180.2,"y":28.4},{"g":"j3","x":170.7,"y":31},{"g":"j3","x":163.3,"y":32.3},{"g":"j3","x":166.3,"y":34.8},{"g":"j3","x":163.3,"y":37.4},{"g":"j3","x":168.5,"y":39.4},{"g":"j3","x":167,"y":40.7},{"g":"j3","x":162.6,"y":42},
{"g":"j4","x":163.3,"y":43.6},{"g":"j4","x":172.1,"y":44.6},{"g":"j4","x":176.2,"y":47.2},{"g":"j4","x":185.3,"y":46.9},{"g":"j4","x":192.7,"y":46.5},{"g":"j4","x":201,"y":45.6},{"g":"j4","x":201,"y":31.3},{"g":"j4","x":195.6,"y":30.6},{"g":"j4","x":189.7,"y":29.6},{"g":"j4","x":180.9,"y":29.3},{"g":"j4","x":173.6,"y":30.3},{"g":"j4","x":163.3,"y":31.6},{"g":"j4","x":170.7,"y":33.5},{"g":"j4","x":167.7,"y":36.1},{"g":"j4","x":173,"y":38},{"g":"j4","x":170.7,"y":40.7},{"g":"j4","x":163.9,"y":41.7},
{"g":"j5","x":164.1,"y":43.3},{"g":"j5","x":169.2,"y":44.3},{"g":"j5","x":175.1,"y":44.6},{"g":"j5","x":176.5,"y":47.2},{"g":"j5","x":183.9,"y":46.2},{"g":"j5","x":187.5,"y":48.2},{"g":"j5","x":190.4,"y":46.2},{"g":"j5","x":201,"y":45.8},{"g":"j5","x":201,"y":42.3},{"g":"j5","x":192.7,"y":40.7},{"g":"j5","x":201,"y":38.1},{"g":"j5","x":201,"y":31.9},{"g":"j5","x":191.9,"y":31.3},{"g":"j5","x":181.6,"y":30},{"g":"j5","x":174.3,"y":31.3},{"g":"j5","x":180.2,"y":32.6},{"g":"j5","x":177.3,"y":34.5},{"g":"j5","x":173.6,"y":35.5},{"g":"j5","x":180.2,"y":36.8},{"g":"j5","x":178,"y":39.7},{"g":"j5","x":170.7,"y":41},{"g":"j5","x":175.1,"y":42.3},{"g":"j5","x":167,"y":42.3},
{"g":"j6","x":178.4,"y":35.5},{"g":"j6","x":181.6,"y":36.5},{"g":"j6","x":186,"y":37.8},{"g":"j6","x":187.1,"y":39.4},{"g":"j6","x":195.6,"y":39.1},{"g":"j6","x":198,"y":37.6},{"g":"j6","x":197,"y":36.1},{"g":"j6","x":189.7,"y":35.5},{"g":"j6","x":188.2,"y":34.5},{"g":"j6","x":192.7,"y":32},{"g":"j6","x":186.8,"y":31.1},{"g":"j6","x":183.1,"y":32.9},{"g":"j6","x":179.8,"y":33.9},
{"g":"jb","x":140,"x2":160,"y":30,"y2":45},
{"g":"k0","x":147.2,"y":54.6},{"g":"k0","x":155.6,"y":56},{"g":"k0","x":179.8,"y":56},{"g":"k0","x":179.4,"y":51},{"g":"k0","x":201,"y":50.4},{"g":"k0","x":201,"y":24},{"g":"k0","x":167.4,"y":25.8},{"g":"k0","x":155.6,"y":26.4},{"g":"k0","x":139.5,"y":26.4},{"g":"k0","x":139.5,"y":27.7},{"g":"k0","x":144.7,"y":30.3},{"g":"k0","x":144.7,"y":32.6},{"g":"k0","x":145.4,"y":39.4},{"g":"k0","x":142.5,"y":40.7},{"g":"k0","x":145.4,"y":44.3},{"g":"k0","x":151.2,"y":46.2},{"g":"k0","x":148.3,"y":49.8},
{"g":"k1","x":149,"y":51.4},{"g":"k1","x":154.9,"y":53.4},{"g":"k1","x":156.4,"y":50.4},{"g":"k1","x":162.6,"y":56},{"g":"k1","x":177.6,"y":56},{"g":"k1","x":179.1,"y":52},{"g":"k1","x":178.4,"y":50.4},{"g":"k1","x":201,"y":49.8},{"g":"k1","x":201,"y":28.4},{"g":"k1","x":194.5,"y":29.3},{"g":"k1","x":190.8,"y":27},{"g":"k1","x":179.8,"y":25.8},{"g":"k1","x":171.8,"y":27},{"g":"k1","x":161.5,"y":28.7},{"g":"k1","x":152.7,"y":29.7},{"g":"k1","x":146.5,"y":34.2},{"g":"k1","x":145.8,"y":38.7},{"g":"k1","x":144.7,"y":42.3},{"g":"k1","x":151.2,"y":45.9},
{"g":"k9","x":150.1,"y":34},{"g":"k9","x":155.6,"y":35},{"g":"k9","x":154.9,"y":32.8},{"g":"k9","x":150.5,"y":33},
{"g":"k2","x":144.9,"y":42.3},{"g":"k2","x":149.8,"y":44.9},{"g":"k2","x":161.9,"y":45.2},{"g":"k2","x":165.2,"y":47.2},{"g":"k2","x":160.3,"y":49.8},{"g":"k2","x":156.4,"y":48.2},{"g":"k2","x":160,"y":52},{"g":"k2","x":163.7,"y":54.4},{"g":"k2","x":170.3,"y":56},{"g":"k2","x":177.4,"y":51.4},{"g":"k2","x":177,"y":50.1},{"g":"k2","x":181.3,"y":46.9},{"g":"k2","x":185.7,"y":46.9},{"g":"k2","x":186.8,"y":49.2},{"g":"k2","x":201,"y":48.8},{"g":"k2","x":201,"y":31},{"g":"k2","x":193.8,"y":31},{"g":"k2","x":179.1,"y":30.7},{"g":"k2","x":176.2,"y":32.3},{"g":"k2","x":167.4,"y":35.2},{"g":"k2","x":160.3,"y":36.5},{"g":"k2","x":168.2,"y":38.1},{"g":"k2","x":170.3,"y":39.1},{"g":"k2","x":161.5,"y":38.4},{"g":"k2","x":160,"y":40.4},{"g":"k2","x":153.4,"y":39.7},{"g":"k2","x":152,"y":42},{"g":"k2","x":147.6,"y":42.3},{"g":"k2","x":145.9,"y":40.7},
{"g":"k3","x":161.5,"y":43.3},{"g":"k3","x":170.3,"y":46.5},{"g":"k3","x":176.9,"y":49.5},{"g":"k3","x":185,"y":46.2},{"g":"k3","x":201,"y":48.2},{"g":"k3","x":201,"y":32.9},{"g":"k3","x":193.8,"y":31.9},{"g":"k3","x":186.5,"y":31.3},{"g":"k3","x":177.6,"y":32.9},{"g":"k3","x":168.8,"y":35.5},{"g":"k3","x":171.8,"y":38.7},{"g":"k3","x":166,"y":40.7},{"g":"k3","x":160,"y":41.3},
{"g":"k8","x":144.9,"y":42.3},{"g":"k8","x":152.7,"y":43.9},{"g":"k8","x":161.5,"y":43.3},{"g":"k8","x":160,"y":41},{"g":"k8","x":153.4,"y":40},{"g":"k8","x":152,"y":42.3},
{"g":"k4","x":148.7,"y":43},{"g":"k4","x":152.7,"y":43.9},{"g":"k4","x":161.5,"y":43.6},{"g":"k4","x":168.8,"y":43.9},{"g":"k4","x":170.3,"y":49.5},{"g":"k4","x":176.2,"y":49.8},{"g":"k4","x":179.8,"y":46.5},{"g":"k4","x":186.5,"y":44.9},{"g":"k4","x":201,"y":47.5},{"g":"k4","x":201,"y":41.3},{"g":"k4","x":190.1,"y":41.3},{"g":"k4","x":195.2,"y":37.4},{"g":"k4","x":193.8,"y":32.9},{"g":"k4","x":187.9,"y":31.9},{"g":"k4","x":178.4,"y":33.9},{"g":"k4","x":173.2,"y":36.1},{"g":"k4","x":177.6,"y":39.4},{"g":"k4","x":168.1,"y":40},{"g":"k4","x":162.2,"y":42.3},{"g":"k4","x":156.4,"y":42},{"g":"k4","x":153.4,"y":42.3},{"g":"k4","x":149.8,"y":41.7},
{"g":"k5","x":176.4,"y":46.9},{"g":"k5","x":183,"y":45.9},{"g":"k5","x":190,"y":45.6},{"g":"k5","x":201,"y":47.9},{"g":"k5","x":201,"y":43.6},{"g":"k5","x":190.8,"y":43.3},{"g":"k5","x":185.7,"y":41.7},{"g":"k5","x":191.5,"y":38.4},{"g":"k5","x":191.2,"y":36.8},{"g":"k5","x":185,"y":36.8},{"g":"k5","x":178.3,"y":40.7},{"g":"k5","x":171,"y":41.3},{"g":"k5","x":174.3,"y":43.6},{"g":"k5","x":182,"y":43.6},{"g":"k5","x":179.8,"y":45.6},
{"g":"k6","x":150,"y":43.6},{"g":"k6","x":152,"y":43.3},{"g":"k6","x":152.7,"y":42},{"g":"k6","x":149.8,"y":42.8},
{"g":"k7","x":156,"y":43.3},{"g":"k7","x":157.8,"y":43.6},{"g":"k7","x":157.1,"y":42.3},{"g":"k7","x":155,"y":42.6},
{"g":"kb","x":140,"x2":160,"y":30,"y2":45},
{"g":"l0","x":130,"y":24},{"g":"l0","x":130.3,"y":28},{"g":"l0","x":132.9,"y":31.4},{"g":"l0","x":137.3,"y":33.4},{"g":"l0","x":142.4,"y":34.4},{"g":"l0","x":141.6,"y":36.7},{"g":"l0","x":142.4,"y":40},{"g":"l0","x":141,"y":42.5},{"g":"l0","x":145.3,"y":43.9},{"g":"l0","x":150.4,"y":46.5},{"g":"l0","x":151.1,"y":48.9},{"g":"l0","x":150,"y":49.3},{"g":"l0","x":151.1,"y":51.8},{"g":"l0","x":154.8,"y":54},{"g":"l0","x":160.3,"y":56},{"g":"l0","x":173.2,"y":56},{"g":"l0","x":176.1,"y":53.1},{"g":"l0","x":175,"y":51.2},{"g":"l0","x":181.2,"y":47.9},{"g":"l0","x":184.8,"y":48.5},{"g":"l0","x":184.8,"y":50.4},{"g":"l0","x":201,"y":49.7},{"g":"l0","x":201,"y":24},
{"g":"l1","x":143.8,"y":42.3},{"g":"l1","x":149.7,"y":44.6},{"g":"l1","x":151.2,"y":46.2},{"g":"l1","x":151.5,"y":48.8},{"g":"l1","x":154.8,"y":51.4},{"g":"l1","x":156.3,"y":50.8},{"g":"l1","x":163.6,"y":56},{"g":"l1","x":172.4,"y":54.7},{"g":"l1","x":175.7,"y":52.4},{"g":"l1","x":175.3,"y":51.1},{"g":"l1","x":179.7,"y":48.5},{"g":"l1","x":184.1,"y":48.2},{"g":"l1","x":185.2,"y":50.1},{"g":"l1","x":201,"y":49.5},{"g":"l1","x":201,"y":24},{"g":"l1","x":177.6,"y":24},{"g":"l1","x":176.8,"y":26.4},{"g":"l1","x":168.8,"y":26.4},{"g":"l1","x":154.8,"y":28},{"g":"l1","x":148.2,"y":29.3},{"g":"l1","x":143.8,"y":30.6},{"g":"l1","x":142.4,"y":32.2},{"g":"l1","x":143.1,"y":34.8},{"g":"l1","x":141.6,"y":38.1},{"g":"l1","x":143.1,"y":40.7},
{"g":"l8","x":132.5,"y":29},{"g":"l8","x":135.8,"y":31},{"g":"l8","x":141.6,"y":32},{"g":"l8","x":143.8,"y":29.6},{"g":"l8","x":148.2,"y":26.4},{"g":"l8","x":138,"y":25.8},{"g":"l8","x":132,"y":25.8},
{"g":"l2","x":160.7,"y":43},{"g":"l2","x":165.8,"y":45.6},{"g":"l2","x":165.1,"y":47.2},{"g":"l2","x":168,"y":48.5},{"g":"l2","x":171.7,"y":47.5},{"g":"l2","x":186.3,"y":47.2},{"g":"l2","x":187,"y":49.1},{"g":"l2","x":201,"y":47.2},{"g":"l2","x":201,"y":30},{"g":"l2","x":193.8,"y":30.3},{"g":"l2","x":185,"y":29},{"g":"l2","x":176.9,"y":27.4},{"g":"l2","x":164.4,"y":28},{"g":"l2","x":155.6,"y":29.3},{"g":"l2","x":146.8,"y":29.6},{"g":"l2","x":160,"y":30.6},{"g":"l2","x":169.1,"y":32.6},{"g":"l2","x":164.4,"y":32.6},{"g":"l2","x":163.6,"y":34.5},{"g":"l2","x":158.5,"y":37.8},{"g":"l2","x":167.3,"y":37.8},{"g":"l2","x":165.8,"y":39.7},{"g":"l2","x":160,"y":40.4},
{"g":"l3","x":163.6,"y":43},{"g":"l3","x":171.7,"y":46},{"g":"l3","x":184.2,"y":46},{"g":"l3","x":201,"y":46.5},{"g":"l3","x":201,"y":31},{"g":"l3","x":193.8,"y":31.3},{"g":"l3","x":186.4,"y":30.3},{"g":"l3","x":176.9,"y":28.8},{"g":"l3","x":168,"y":29.8},{"g":"l3","x":163.6,"y":31},{"g":"l3","x":170.2,"y":32.1},{"g":"l3","x":167.3,"y":35},{"g":"l3","x":165.8,"y":37.3},{"g":"l3","x":168,"y":38.3},{"g":"l3","x":167.3,"y":40.7},
{"g":"l4","x":163.6,"y":43},{"g":"l4","x":170.2,"y":45},{"g":"l4","x":179,"y":46},{"g":"l4","x":196.6,"y":45.9},{"g":"l4","x":201,"y":45.2},{"g":"l4","x":201,"y":31.4},{"g":"l4","x":190,"y":30.8},{"g":"l4","x":176.2,"y":29.6},{"g":"l4","x":175.5,"y":30.6},{"g":"l4","x":170,"y":31.6},{"g":"l4","x":173,"y":34},{"g":"l4","x":165,"y":36.9},{"g":"l4","x":170,"y":38.5},{"g":"l4","x":168,"y":41},
{"g":"l5","x":163.2,"y":43},{"g":"l5","x":165.8,"y":44.6},{"g":"l5","x":171.7,"y":44.3},{"g":"l5","x":176.1,"y":45.2},{"g":"l5","x":182,"y":44.6},{"g":"l5","x":192.2,"y":45.9},{"g":"l5","x":198,"y":44.6},{"g":"l5","x":201,"y":39.4},{"g":"l5","x":201,"y":33},{"g":"l5","x":196.6,"y":32.3},{"g":"l5","x":186.4,"y":30.3},{"g":"l5","x":176.1,"y":29},{"g":"l5","x":179,"y":32.2},{"g":"l5","x":172.5,"y":36.1},{"g":"l5","x":163.6,"y":37},{"g":"l5","x":171,"y":41.3},{"g":"l5","x":167.3,"y":43},
{"g":"l6","x":177.5,"y":41.3},{"g":"l6","x":183.4,"y":39.8},{"g":"l6","x":184.1,"y":36.9},{"g":"l6","x":177.9,"y":35.6},{"g":"l6","x":177.5,"y":35},{"g":"l6","x":183.4,"y":33.1},{"g":"l6","x":188.9,"y":31},{"g":"l6","x":189.3,"y":33.4},{"g":"l6","x":184.8,"y":35},{"g":"l6","x":196.5,"y":36},{"g":"l6","x":197.2,"y":37.6},{"g":"l6","x":195.9,"y":39.4},{"g":"l6","x":189.3,"y":40.4},{"g":"l6","x":182.7,"y":41.5},
{"g":"l7","x":148.7,"y":43},{"g":"l7","x":151.7,"y":43},{"g":"l7","x":151,"y":42},{"g":"l7","x":149,"y":42},
{"g":"l9","x":148,"y":38.5},{"g":"l9","x":150,"y":39},{"g":"l9","x":150,"y":37},{"g":"l9","x":148.5,"y":37},
{"g":"lb","x":140,"x2":160,"y":30,"y2":45}],
"bar":[{"i":0,"i2":1,"v":0},{"i":1,"i2":2,"v":1},{"i":2,"i2":3,"v":2},{"i":3,"i2":4,"v":3},{"i":4,"i2":5,"v":4},{"i":5,"i2":6,"v":5},{"i":6,"i2":7,"v":6},{"i":7,"i2":8,"v":7},{"i":8,"i2":9,"v":8},{"i":9,"i2":10,"v":9},{"i":10,"i2":11,"v":10},{"i":11,"i2":12,"v":11},{"i":12,"i2":13,"v":12},{"i":13,"i2":14,"v":13},{"i":14,"i2":15,"v":14},{"i":15,"i2":16,"v":15},{"i":16,"i2":17,"v":16},{"i":17,"i2":18,"v":17},{"i":18,"i2":19,"v":18},{"i":19,"i2":20,"v":19}],
"tip":[{"x":20,"y":0},{"x":21.02,"y":0.5},{"x":20,"y":1}],
"labs":[{"x":0,"y":0,"t":"1x10","e":"-6"},{"x":4,"y":0,"t":"1x10","e":"-5"},{"x":8,"y":0,"t":"1x10","e":"-4"},{"x":12,"y":0,"t":"1x10","e":"-3"},{"x":16,"y":0,"t":"1x10","e":"-2"},{"x":20,"y":0,"t":"1x10","e":"-1"}]},
"resolve":{"scale":{"fill":"independent"}},
"vconcat":[{"data":{"name":"f"},"transform":[{"lookup":"g","from":{"data":{"name":"groups"},"key":"g","fields":["p","l","e"]}},{"lookup":"p","from":{"data":{"name":"panels"},"key":"p","fields":["r","s"]}}],
"facet":{"row":{"field":"r","type":"nominal","sort":["1 month","6 months","1 year","2 years"],"header":{"title":null,"labelFontSize":25,"labelFont":"DejaVu Sans","labelColor":"#111","labelPadding":52}},"column":{"field":"s","type":"nominal","sort":["shift 0 simulation","shift 1 simulation","shift 2 simulation"],"header":{"title":null,"labelFontSize":26,"labelFont":"DejaVu Sans","labelColor":"#111","labelPadding":18}}},
"spacing":{"row":37,"column":66},"bounds":"flush","resolve":{"axis":{"x":"independent","y":"independent"}},
"spec":{"width":319,"height":154,"resolve":{"axis":{"x":"independent","y":"independent"}},"layer":[
{"transform":[{"filter":"!isValid(datum.x2)"}],"mark":{"type":"line","interpolate":"cardinal-closed","tension":0.4,"clip":true},"encoding":{"order":{"value":null},"x":{"field":"x","type":"quantitative","scale":{"domain":[130,200],"nice":false,"zero":false},"axis":{"orient":"bottom","values":[130,135,140,145,150,155,160,165,170,175,180,185,190,195,200],"tickSize":6,"labelPadding":5,"labelExpr":"datum.value%10!=0?'':datum.value<180?datum.value+'°E':datum.value==180?'180°':(360-datum.value)+'°W'"}},"y":{"field":"y","type":"quantitative","scale":{"domain":[25,55],"nice":false,"zero":false},"axis":{"orient":"left","values":[26,28,30,32,34,36,38,40,42,44,46,48,50,52,54],"tickSize":{"condition":{"test":"(datum.value-26)%4==0","value":7},"value":5},"labelPadding":3,"labelExpr":"(datum.value-26)%4==0?datum.value+'°N':''"}},"detail":{"field":"g"},"fill":{"field":"l","type":"ordinal","legend":null,"scale":{"domain":[0,1,2,3,4,5,6,7,8,9,10],"range":["#ffffff","#99ffff","#8ac7e0","#8aa4d4","#807cc0","#a8628f","#d24e66","#ff3333","#ff5522","#ff8010","#ffdd00"]}},"stroke":{"field":"e","type":"nominal","legend":null,"scale":{"domain":["n","k","K","c"],"range":["transparent","#1a1f2e","#111111","#99ffff"]}},"strokeWidth":{"field":"e","type":"nominal","legend":null,"scale":{"type":"ordinal","domain":["n","k","K","c"],"range":[0,1,1.8,2.5]}}}},
{"data":{"name":"land"},"mark":{"type":"line","interpolate":"linear-closed","fill":"#808080","stroke":"#808080","strokeWidth":0.5,"clip":true},"encoding":{"order":{"value":null},"detail":{"field":"n"},"x":{"field":"x","type":"quantitative","scale":{"domain":[130,200],"nice":false,"zero":false},"axis":{"orient":"top","values":[130,135,140,145,150,155,160,165,170,175,180,185,190,195,200],"labels":false,"tickSize":6}},"y":{"field":"y","type":"quantitative","scale":{"domain":[25,55],"nice":false,"zero":false},"axis":{"orient":"right","values":[26,28,30,32,34,36,38,40,42,44,46,48,50,52,54],"labels":false,"tickSize":{"condition":{"test":"(datum.value-26)%4==0","value":7},"value":5}}}}},
{"data":{"name":"isl"},"mark":{"type":"line","stroke":"#808080","strokeWidth":1.3,"strokeDash":[3,4],"clip":true},"encoding":{"order":{"value":null},"detail":{"field":"n"},"x":{"field":"x","type":"quantitative","axis":null},"y":{"field":"y","type":"quantitative","axis":null}}},
{"transform":[{"filter":"isValid(datum.x2)"}],"mark":{"type":"rect","fill":null,"stroke":"#111","strokeWidth":1.8},"encoding":{"x":{"field":"x","type":"quantitative","axis":null},"x2":{"field":"x2"},"y":{"field":"y","type":"quantitative","axis":null},"y2":{"field":"y2"}}}
]}},
{"width":1085,"height":22,"layer":[
{"data":{"name":"bar"},"mark":{"type":"rect","stroke":"#444","strokeWidth":0.7},"encoding":{"x":{"field":"i","type":"quantitative","scale":{"domain":[0.192,21.02],"nice":false,"zero":false},"axis":null},"x2":{"field":"i2"},"y":{"datum":0,"type":"quantitative","scale":{"domain":[0,1],"nice":false},"axis":null},"y2":{"datum":1},"fill":{"field":"v","type":"ordinal","legend":null,"scale":{"domain":[0,1,2,3,4,5,6,7,8,9,10,11,12,13,14,15,16,17,18,19],"range":["#ffffff","#c8fdfd","#99ffff","#90f0f5","#90dcea","#8ac7e0","#8ab6dc","#8aa4d4","#8490c8","#807cc0","#a8628f","#d24e66","#ff3333","#ff5522","#ff6a1a","#ff8010","#ff9900","#ffb000","#ffcc00","#ffe000"]}}}},
{"data":{"name":"tip"},"mark":{"type":"line","interpolate":"linear-closed","fill":"#ffff00","stroke":"#777","strokeWidth":0.7},"encoding":{"order":{"value":null},"x":{"field":"x","type":"quantitative","axis":null},"y":{"field":"y","type":"quantitative","axis":null}}},
{"data":{"name":"labs"},"mark":{"type":"text","font":"DejaVu Sans","fontSize":16,"color":"#111","dy":18,"align":"center"},"encoding":{"x":{"field":"x","type":"quantitative","axis":null},"y":{"field":"y","type":"quantitative","axis":null},"text":{"field":"t"}}},
{"data":{"name":"labs"},"mark":{"type":"text","font":"DejaVu Sans","fontSize":11,"color":"#111","dy":8,"dx":21,"align":"left"},"encoding":{"x":{"field":"x","type":"quantitative","axis":null},"y":{"field":"y","type":"quantitative","axis":null},"text":{"field":"e"}}}
]}],"spacing":756,"bounds":"flush"}
